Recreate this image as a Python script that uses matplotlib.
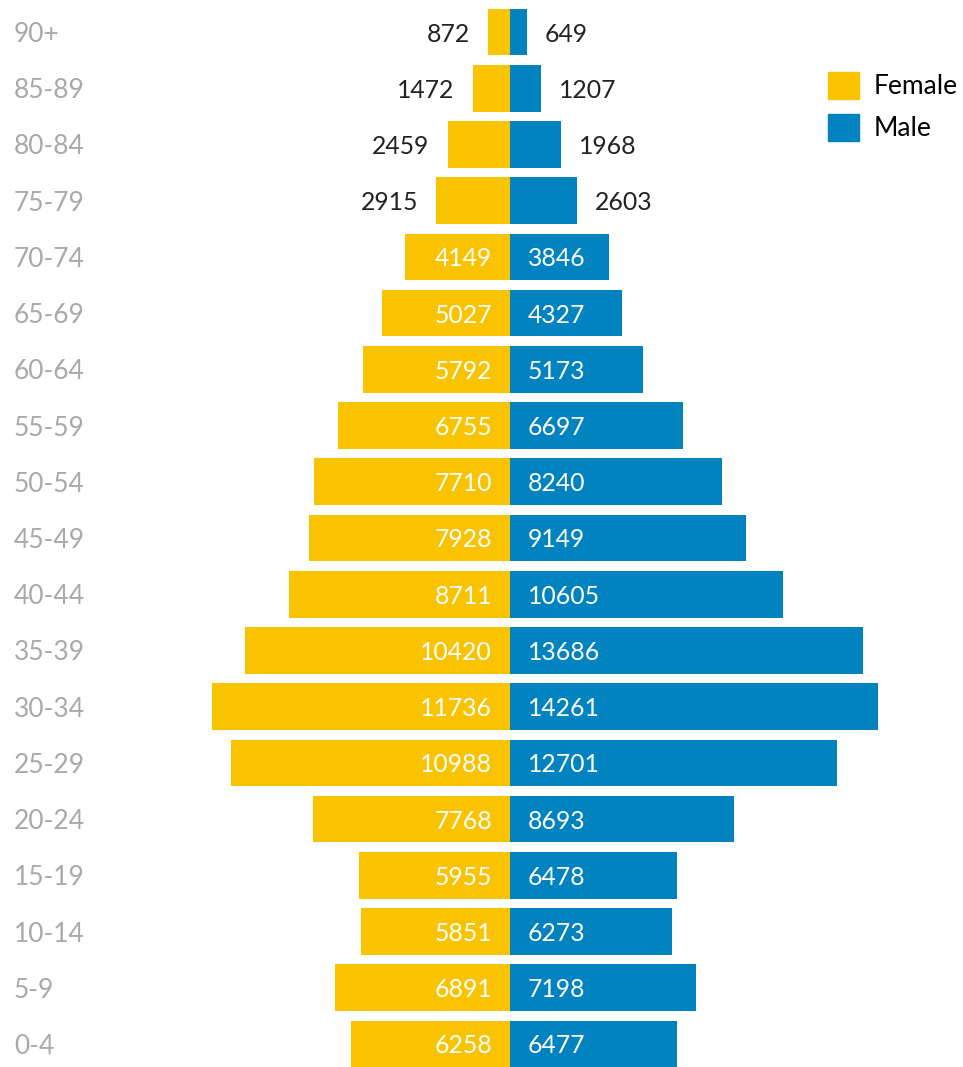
import matplotlib
matplotlib.use('Agg')
import matplotlib.pyplot as plt
import matplotlib.patches as mpatches
from matplotlib.transforms import offset_copy

AGES   = ['90+', '85-89', '80-84', '75-79', '70-74', '65-69', '60-64', '55-59',
          '50-54', '45-49', '40-44', '35-39', '30-34', '25-29', '20-24', '15-19',
          '10-14', '5-9', '0-4']
FEMALE = [872, 1472, 2459, 2915, 4149, 5027, 5792, 6755, 7710, 7928, 8711,
          10420, 11736, 10988, 7768, 5955, 5851, 6891, 6258]
MALE   = [649, 1207, 1968, 2603, 3846, 4327, 5173, 6697, 8240, 9149, 10605,
          13686, 14261, 12701, 8693, 6478, 6273, 7198, 6477]

C_F   = '#F9C300'
C_M   = '#0083BF'
C_AGE = '#a9a9a9'
C_TXT = '#222222'
INSIDE_MIN = 3000
FS_NUM = 17.8
FS_AGE = 19

plt.rcParams['font.family'] = ['Lato', 'DejaVu Sans']

W, H, DPI = 963, 1067, 100
CX = 510                       # centre pixel
ROW0, STEP = 32, 56.22         # first row centre, row spacing (px)
N = len(AGES)

fig = plt.figure(figsize=(W/DPI, H/DPI), dpi=DPI)
ax_f = fig.add_axes([0, 0, CX/W, 1])
ax_m = fig.add_axes([CX/W, 0, 1-CX/W, 1])

ax_f.set_xlim(CX/0.02539, 0)
ax_m.set_xlim(0, (W-CX)/0.02578)
for ax in (ax_f, ax_m):
    ax.set_ylim(N-1 + (H-ROW0-(N-1)*STEP)/STEP, -ROW0/STEP)
    ax.axis('off')

ys = range(N)
ax_f.barh(ys, FEMALE, height=0.83, color=C_F, lw=0)
ax_m.barh(ys, MALE, height=0.83, color=C_M, lw=0)

f_tr = offset_copy(ax_f.transData, fig=fig, x=-18, y=0, units='dots')
m_tr = offset_copy(ax_m.transData, fig=fig, x=18, y=0, units='dots')

for y, f, m in zip(ys, FEMALE, MALE):
    if f >= INSIDE_MIN:
        ax_f.text(0, y, str(f), transform=f_tr, ha='right', va='center_baseline',
                  fontsize=FS_NUM, color='white')
    else:
        ax_f.text(f, y, str(f), transform=f_tr, ha='right', va='center_baseline',
                  fontsize=FS_NUM, color=C_TXT)
    if m >= INSIDE_MIN:
        ax_m.text(0, y, str(m), transform=m_tr, ha='left', va='center_baseline',
                  fontsize=FS_NUM, color='white')
    else:
        ax_m.text(m, y, str(m), transform=m_tr, ha='left', va='center_baseline',
                  fontsize=FS_NUM, color=C_TXT)
    ax_f.text(14/CX, y, AGES[y], transform=ax_f.get_yaxis_transform(), ha='left',
              va='center_baseline', fontsize=FS_AGE, color=C_AGE)

handles = [mpatches.Patch(color=C_F, label='Female'),
           mpatches.Patch(color=C_M, label='Male')]
fig.legend(handles=handles, loc='upper left', bbox_to_anchor=(828/W, 1-72/H),
           frameon=False, fontsize=FS_AGE, handlelength=1.17, handleheight=1.17,
           handletextpad=0.55, labelspacing=0.56, borderaxespad=0, borderpad=0)

fig.savefig('out.png', dpi=DPI)
